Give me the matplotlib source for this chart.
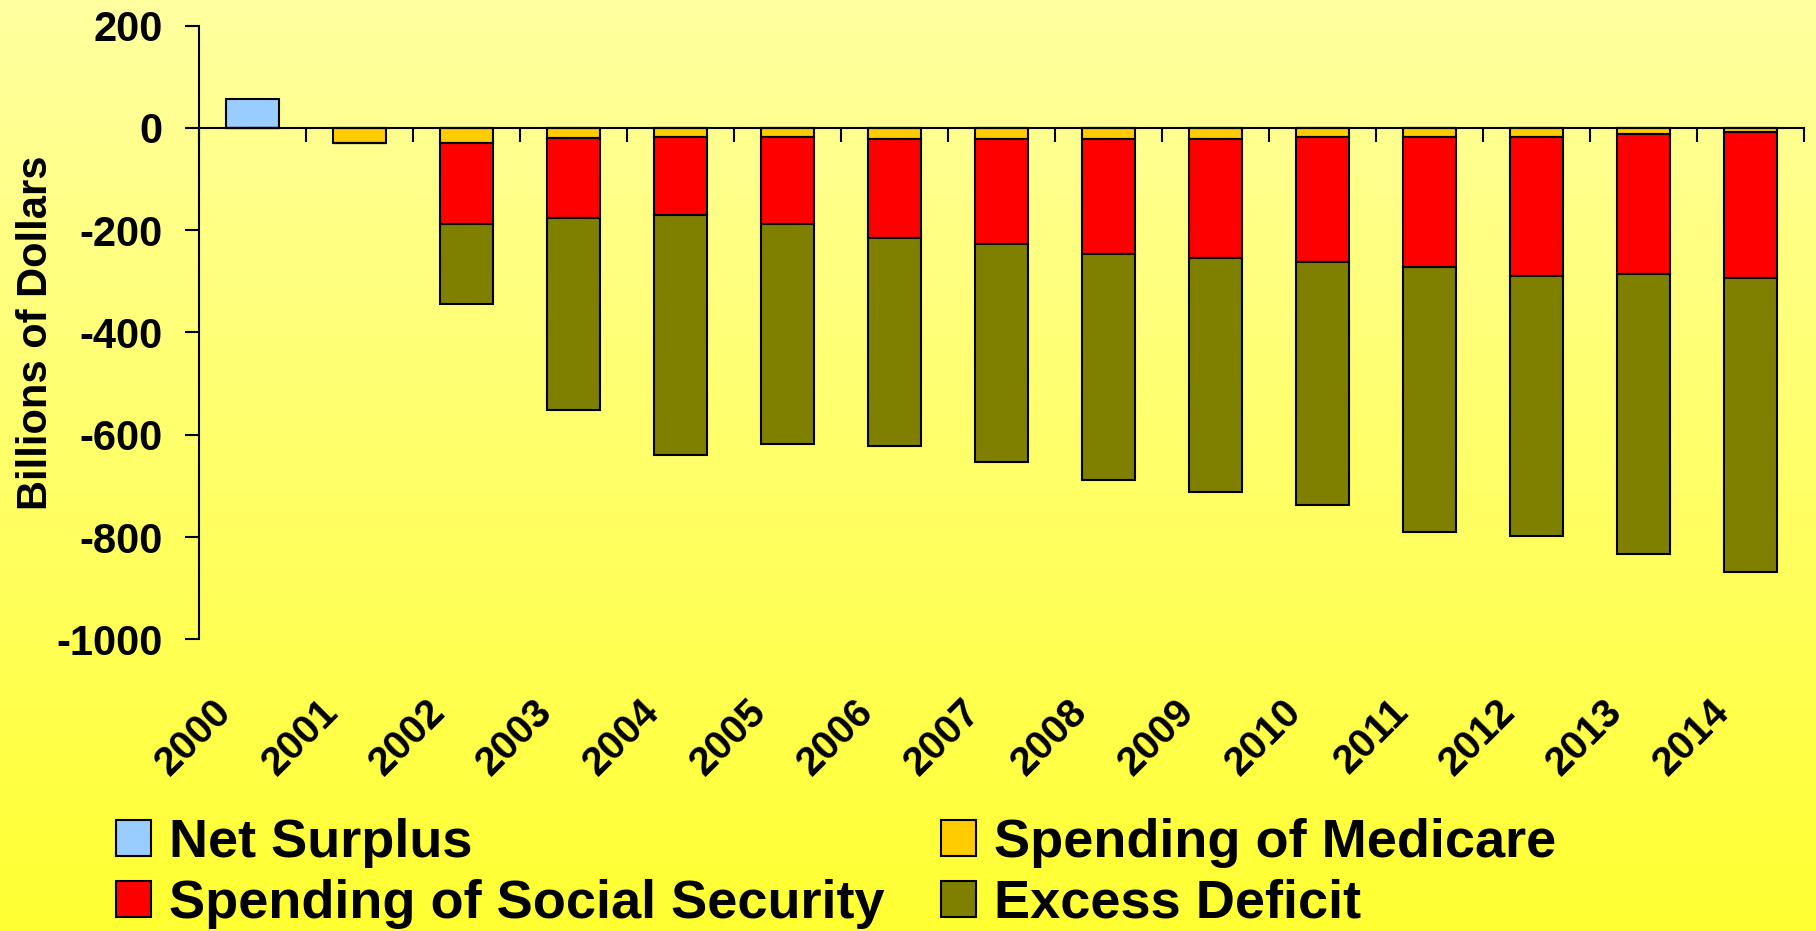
import numpy as np
import matplotlib.pyplot as plt
from matplotlib.transforms import ScaledTranslation

plt.rcParams['font.family'] = ['Liberation Sans', 'DejaVu Sans']
plt.rcParams['font.weight'] = 'bold'
plt.rcParams['axes.labelweight'] = 'bold'
plt.rcParams['axes.unicode_minus'] = False

years = ['2000', '2001', '2002', '2003', '2004', '2005', '2006', '2007',
         '2008', '2009', '2010', '2011', '2012', '2013', '2014']
net_surplus = [57, 0, 0, 0, 0, 0, 0, 0, 0, 0, 0, 0, 0, 0, 0]
medicare = [0, -29, -30, -20, -18, -18, -21, -21, -21, -21, -17, -17, -17, -13, -8]
social_security = [0, 0, -158, -156, -153, -170, -194, -207, -225, -234,
                   -246, -255, -273, -272, -286]
excess_deficit = [0, 0, -157, -376, -469, -431, -407, -425, -443, -457,
                  -474, -518, -508, -548, -574]

fig = plt.figure(figsize=(18.16, 9.31), dpi=100)

# background: vertical yellow gradient
bg = fig.add_axes([0, 0, 1, 1], zorder=-1)
t = np.linspace(0, 1, 256)[:, None]
top = np.array([255, 255, 160]) / 255
bottom = np.array([255, 255, 50]) / 255
grad = (top * (1 - t) + bottom * t).reshape(256, 1, 3)
bg.imshow(grad, aspect='auto', extent=[0, 1, 0, 1])
bg.axis('off')

ax = fig.add_axes([0.1096, 0.3133, 0.8837, 0.6593])
ax.set_facecolor('none')

x = np.arange(len(years))
med = np.array(medicare)
ss = np.array(social_security)
ed = np.array(excess_deficit)

kw = dict(width=0.5, edgecolor='black', linewidth=1.5)
b_ns = ax.bar(x, net_surplus, color='#99CCFF', **kw)
b_med = ax.bar(x, med, color='#FFCC00', **kw)
b_ss = ax.bar(x, ss, bottom=med, color='#FF0000', **kw)
b_ed = ax.bar(x, ed, bottom=med + ss, color='#808000', **kw)

ax.set_xlim(-0.5, len(years) - 0.5)
ax.set_ylim(-1000, 200)
ax.set_yticks(np.arange(-1000, 201, 200))
ax.tick_params(axis='y', labelsize=30, length=10, width=1.5, pad=16)

ax.spines['top'].set_visible(False)
ax.spines['right'].set_visible(False)
ax.spines['left'].set_linewidth(1.5)
ax.spines['bottom'].set_position(('data', 0))
ax.spines['bottom'].set_linewidth(1.5)

ax.set_xticks(x)
ax.set_xticklabels(years, rotation=45, ha='right', va='center',
                   rotation_mode='anchor', fontsize=29)
ax.set_xticks(np.arange(-0.5, len(years), 1.0), minor=True)
ax.tick_params(axis='x', which='major', length=0, pad=416)
ax.tick_params(axis='x', which='minor', length=10, width=1.5, direction='out')
shift = ScaledTranslation(-0.27, 0, fig.dpi_scale_trans)
for lab in ax.get_xticklabels():
    lab.set_transform(lab.get_transform() + shift)

ax.set_ylabel('Billions of Dollars', fontsize=30)
ax.yaxis.set_label_coords(-0.089, 0.5)

fig.legend([b_ns, b_ss, b_med, b_ed],
           ['Net Surplus', 'Spending of Social Security',
            'Spending of Medicare', 'Excess Deficit'],
           ncol=2, loc='upper left', bbox_to_anchor=(116 / 1816, 1 - 818 / 931),
           frameon=False, fontsize=39, borderpad=0, borderaxespad=0,
           handlelength=0.65, handleheight=0.65, handletextpad=0.32,
           columnspacing=1.05, labelspacing=0.2)

fig.savefig('out.png', dpi=100)
